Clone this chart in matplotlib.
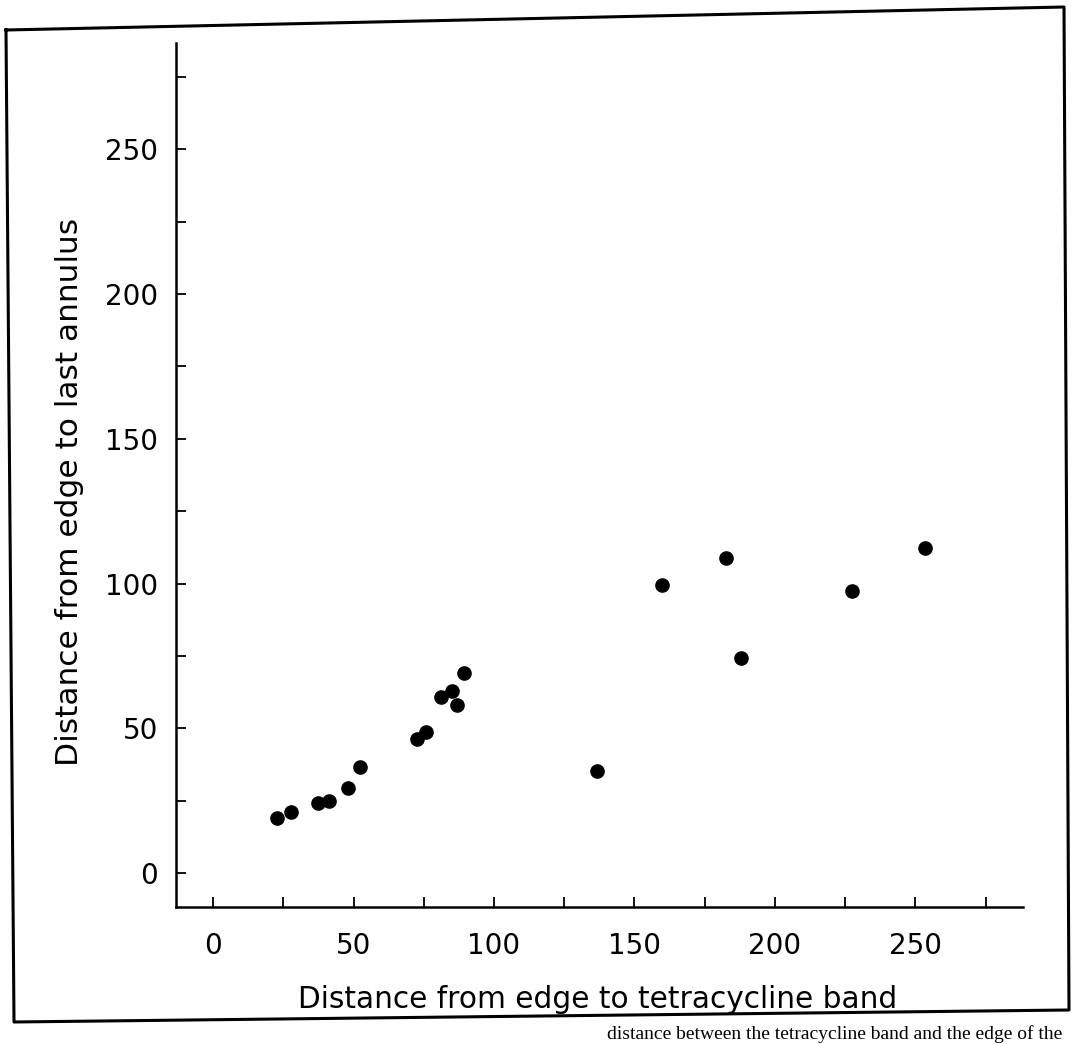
import numpy as np
import matplotlib.pyplot as plt
from matplotlib.lines import Line2D

# distance from shell edge to the tetracycline band vs. to the last annulus
tetra_band = [22.7, 27.9, 37.3, 41.4, 48.1, 52.4, 72.6, 75.7, 81.0, 84.9, 86.8, 89.3,
              136.8, 159.9, 182.5, 187.9, 227.6, 253.3]
last_annulus = [18.9, 21.0, 24.1, 24.9, 29.3, 36.7, 46.2, 48.8, 60.7, 63.0, 58.0, 69.0,
                35.2, 99.5, 108.8, 74.2, 97.4, 112.4]

major_ticks = [0, 50, 100, 150, 200, 250]
minor_ticks = [25, 75, 125, 175, 225, 275]

W, H = 1072, 1044
plt.rcParams['font.family'] = 'DejaVu Sans'

fig = plt.figure(figsize=(W / 100, H / 100), dpi=100)
ax = fig.add_axes([176 / W, 1 - 907 / H, (1023 - 176) / W, (907 - 43) / H])

ax.plot(tetra_band, last_annulus, 'o', color='black', markersize=9.5)

ax.set_xlim(-13.2, 288.3)
ax.set_ylim(-11.7, 286.7)

for side in ['top', 'right']:
    ax.spines[side].set_visible(False)
for side in ['left', 'bottom']:
    ax.spines[side].set_linewidth(1.8)

ax.set_xticks(major_ticks)
ax.set_yticks(major_ticks)
ax.set_xticks(minor_ticks, minor=True)
ax.set_yticks(minor_ticks, minor=True)
ax.tick_params(which='both', direction='in', length=7.5, width=1.3)
ax.tick_params(axis='x', labelsize=20, pad=18)
ax.tick_params(axis='y', labelsize=20, pad=13)

# axis titles placed in figure pixels
fig.text(598 / W, 1 - 1008 / H, 'Distance from edge to tetracycline band',
         ha='center', va='baseline', fontsize=21.3)
fig.text(70 / W, 1 - 492 / H, 'Distance from edge to last annulus',
         ha='center', va='center', rotation=90, fontsize=22.5)

# outer frame around the plot
fx = np.array([6, 1064, 1069, 14, 6]) / W
fy = 1 - np.array([30, 7, 1010, 1022, 30]) / H
fig.add_artist(Line2D(fx, fy, transform=fig.transFigure, color='black', linewidth=2.2))

# first line of the caption below the frame
fig.text(1062 / W, 1 - 1039 / H,
         'distance between the tetracycline band and the edge of the',
         ha='right', va='baseline', fontsize=14, family='Liberation Serif')

fig.savefig('out.png', dpi=100)
